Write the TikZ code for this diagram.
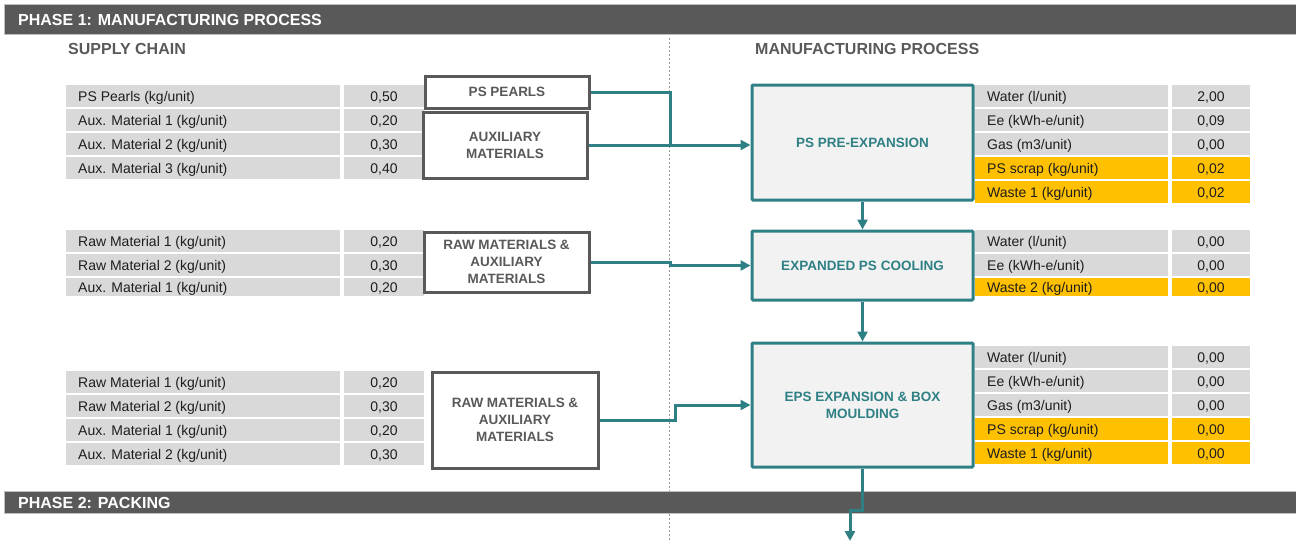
\documentclass[tikz,border=0pt]{standalone}
\usepackage{fontspec}
\setmainfont{Liberation Sans}
\usetikzlibrary{arrows.meta}

\definecolor{bar}{HTML}{595959}
\definecolor{barrim}{HTML}{BFBFBF}
\definecolor{cellgray}{HTML}{D9D9D9}
\definecolor{cellorange}{HTML}{FFC000}
\definecolor{flowteal}{HTML}{2F8085}
\definecolor{boxfill}{HTML}{F2F2F2}
\definecolor{inktext}{HTML}{1E1E1E}
\definecolor{dashgray}{HTML}{9A9A9A}

\tikzset{
  rowtxt/.style={font=\fontsize{14}{16}\selectfont, text=inktext, inner sep=0pt},
  supplybox/.style={draw=bar, line width=3pt, fill=white, text=bar, align=center,
    font=\bfseries\fontsize{13.5}{17}\selectfont, inner sep=0pt},
  processbox/.style={draw=flowteal, line width=3pt, fill=boxfill, text=flowteal, align=center,
    font=\bfseries\fontsize{13.5}{17}\selectfont, inner sep=0pt, rounded corners=1pt},
  flow/.style={draw=flowteal, line width=3pt},
  flowarrow/.style={flow, -{Triangle[length=10pt,width=10pt]}},
  phasebar/.style={fill=bar, draw=barrim, line width=0.8pt},
  phasetxt/.style={font=\bfseries\fontsize{16}{18}\selectfont, text=white, inner sep=0pt, anchor=base west},
  sectiontxt/.style={font=\bfseries\fontsize{16}{18}\selectfont, text=bar, inner sep=0pt, anchor=base west},
}

% one table row: name, left x, label end x, right x, top y, bottom y, fill, label, value
\newcommand\datarow[9]{%
  \fill[#7] (#2,#5) rectangle (#3,#6);
  \fill[#7] ({#3+4},#5) rectangle (#4,#6);
  \node[rowtxt, anchor=base west] (#1-l) at ({#2+12},{(#5+#6)/2+5}) {#8};
  \node[rowtxt, anchor=base] (#1-v) at ({(#3+4+#4)/2},{(#5+#6)/2+5}) {#9};
}

\begin{document}
\begin{tikzpicture}[x=1pt, y=-1pt]
\useasboundingbox (0,0) rectangle (1296,542);

% divider between supply chain and manufacturing
\coordinate (div-top) at (669,38);
\coordinate (div-bot) at (669,542);
\draw[dashgray, line width=1pt, dash pattern=on 2pt off 2pt] (div-top) -- (div-bot);

% phase bars
\draw[phasebar] (4,4) rectangle (1297,34);
\node[phasetxt] (phase1) at (18,25) {PHASE 1: MANUFACTURING PROCESS};
\draw[phasebar] (4,491) rectangle (1297,513);
\node[phasetxt] (phase2) at (18,508) {PHASE 2: PACKING};

% section titles
\node[sectiontxt] (supply) at (68,54) {SUPPLY CHAIN};
\node[sectiontxt] (mfg) at (755,54) {MANUFACTURING PROCESS};

% supply chain tables
\datarow{sa}{66}{340}{424}{85}{107}{cellgray}{PS Pearls (kg/unit)}{0,50}
\datarow{sb}{66}{340}{424}{109}{131}{cellgray}{Aux. Material 1 (kg/unit)}{0,20}
\datarow{sc}{66}{340}{424}{133}{155}{cellgray}{Aux. Material 2 (kg/unit)}{0,30}
\datarow{sd}{66}{340}{424}{157}{179}{cellgray}{Aux. Material 3 (kg/unit)}{0,40}

\datarow{ta}{66}{340}{424}{230}{252}{cellgray}{Raw Material 1 (kg/unit)}{0,20}
\datarow{tb}{66}{340}{424}{254}{276}{cellgray}{Raw Material 2 (kg/unit)}{0,30}
\datarow{tc}{66}{340}{424}{278}{296}{cellgray}{Aux. Material 1 (kg/unit)}{0,20}

\datarow{ua}{66}{340}{424}{371}{393}{cellgray}{Raw Material 1 (kg/unit)}{0,20}
\datarow{ub}{66}{340}{424}{395}{417}{cellgray}{Raw Material 2 (kg/unit)}{0,30}
\datarow{uc}{66}{340}{424}{419}{441}{cellgray}{Aux. Material 1 (kg/unit)}{0,20}
\datarow{ud}{66}{340}{424}{443}{465}{cellgray}{Aux. Material 2 (kg/unit)}{0,30}

% manufacturing tables
\datarow{pa}{975}{1168}{1250}{85}{107}{cellgray}{Water (l/unit)}{2,00}
\datarow{pb}{975}{1168}{1250}{109}{131}{cellgray}{Ee (kWh-e/unit)}{0,09}
\datarow{pc}{975}{1168}{1250}{133}{155}{cellgray}{Gas (m3/unit)}{0,00}
\datarow{pd}{975}{1168}{1250}{157}{179}{cellorange}{PS scrap (kg/unit)}{0,02}
\datarow{pe}{975}{1168}{1250}{181}{203}{cellorange}{Waste 1 (kg/unit)}{0,02}

\datarow{ca}{975}{1168}{1250}{230}{252}{cellgray}{Water (l/unit)}{0,00}
\datarow{cb}{975}{1168}{1250}{254}{276}{cellgray}{Ee (kWh-e/unit)}{0,00}
\datarow{cc}{975}{1168}{1250}{278}{296}{cellorange}{Waste 2 (kg/unit)}{0,00}

\datarow{ea}{975}{1168}{1250}{346}{368}{cellgray}{Water (l/unit)}{0,00}
\datarow{eb}{975}{1168}{1250}{370}{392}{cellgray}{Ee (kWh-e/unit)}{0,00}
\datarow{ec}{975}{1168}{1250}{394}{416}{cellgray}{Gas (m3/unit)}{0,00}
\datarow{ed}{975}{1168}{1250}{418}{440}{cellorange}{PS scrap (kg/unit)}{0,00}
\datarow{ee}{975}{1168}{1250}{442}{464}{cellorange}{Waste 1 (kg/unit)}{0,00}

% supply boxes
\node[supplybox, minimum width=164pt, minimum height=32pt] (pearls) at (507,92) {PS PEARLS};
\node[supplybox, minimum width=164pt, minimum height=66pt] (aux) at (505,145) {AUXILIARY\\MATERIALS};
\node[supplybox, minimum width=165pt, minimum height=60pt] (raw2) at (506.5,262) {RAW MATERIALS \&\\AUXILIARY\\MATERIALS};
\node[supplybox, minimum width=166pt, minimum height=96pt] (raw3) at (515,420) {RAW MATERIALS \&\\AUXILIARY\\MATERIALS};

% process boxes
\node[processbox, minimum width=221pt, minimum height=115pt] (pre) at (862.5,142.5) {PS PRE-EXPANSION};
\node[processbox, minimum width=221pt, minimum height=69pt] (cool) at (862.5,265.5) {EXPANDED PS COOLING};
\node[processbox, minimum width=221pt, minimum height=124pt] (eps) at (862.5,405) {EPS EXPANSION \& BOX\\MOULDING};

% material flows
\coordinate (j1) at (670,145);
\coordinate (j2) at (670,262);
\coordinate (j3) at (675,420);
\coordinate (jog) at (862.5,510);
\coordinate (exit) at (850,541);

\draw[flow] (pearls.east) -| (j1);
\draw[flowarrow] (aux.east) -- (aux.east -| pre.west);
\draw[flowarrow] (raw2.east) -- (j2) |- (cool.west);
\draw[flowarrow] (raw3.east) -- (j3) |- (eps.west);
\draw[flowarrow] (pre.south) -- (cool.north);
\draw[flowarrow] (cool.south) -- (eps.north);
\draw[flowarrow] (eps.south) -- (jog) -| (exit);
\end{tikzpicture}
\end{document}
